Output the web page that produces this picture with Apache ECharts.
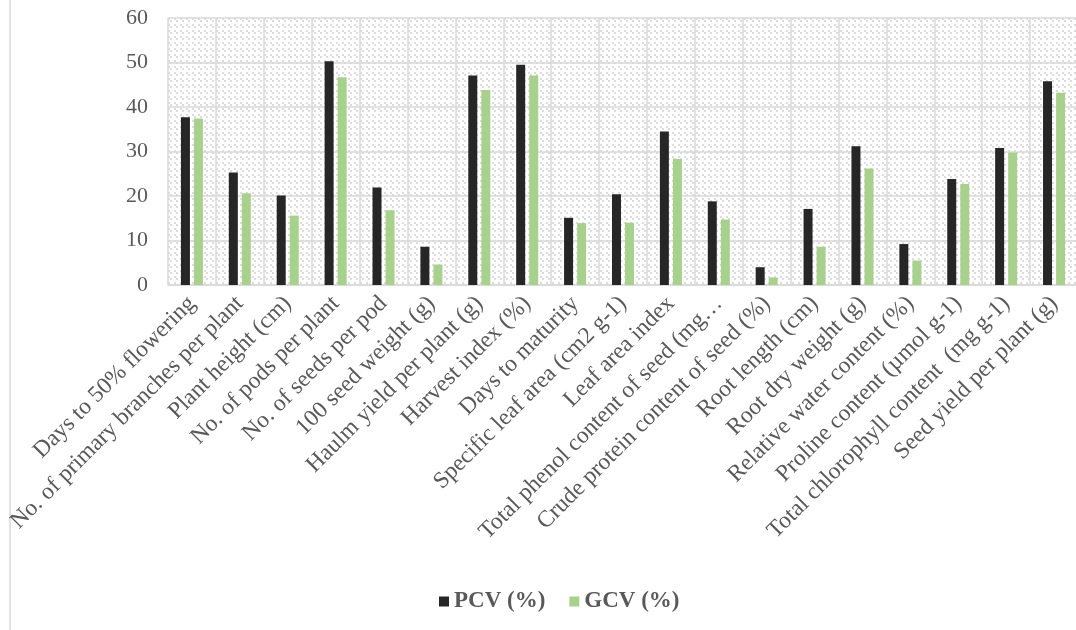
<!DOCTYPE html>
<html>
<head>
<meta charset="utf-8">
<script src="https://cdn.jsdelivr.net/npm/echarts@6/dist/echarts.min.js"></script>
<style>
  html, body { margin: 0; padding: 0; background: #ffffff; }
  #chart { width: 1076px; height: 630px; }
</style>
</head>
<body>
<div id="chart"></div>
<script>
// Traits measured in the trial
const traits = [
  'Days to 50% flowering',
  'No. of primary branches per plant',
  'Plant height (cm)',
  'No. of pods per plant',
  'No. of seeds per pod',
  '100 seed weight (g)',
  'Haulm yield per plant (g)',
  'Harvest index (%)',
  'Days to maturity',
  'Specific leaf area (cm2 g-1)',
  'Leaf area index',
  'Total phenol content of seed (mg…',
  'Crude protein content of seed (%)',
  'Root length (cm)',
  'Root dry weight (g)',
  'Relative water content (%)',
  'Proline content (µmol g-1)',
  'Total chlorophyll content  (mg g-1)',
  'Seed yield per plant (g)'
];

// Phenotypic coefficient of variation (%)
const pcv = [37.7, 25.3, 20.1, 50.3, 21.9, 8.6, 47.1, 49.5, 15.1, 20.4,
             34.5, 18.8, 4.0, 17.1, 31.2, 9.2, 23.8, 30.8, 45.8];

// Genotypic coefficient of variation (%)
const gcv = [37.4, 20.6, 15.6, 46.7, 16.8, 4.6, 43.8, 47.1, 13.9, 14.0,
             28.3, 14.7, 1.7, 8.6, 26.2, 5.5, 22.7, 29.8, 43.2];

const seriesNames = ['PCV (%)', 'GCV (%)'];
const yTicks = { min: 0, max: 60, step: 10 };

// Dashed downward-diagonal hatch for the plot background
function hatchTile() {
  const c = document.createElement('canvas');
  c.width = 6; c.height = 6;
  const g = c.getContext('2d');
  g.fillStyle = '#ffffff';
  g.fillRect(0, 0, 6, 6);
  g.fillStyle = '#dcdcdc';
  g.fillRect(0, 0, 2, 2);
  g.fillRect(2, 2, 2, 2);
  return c;
}

const serif = '"Liberation Serif", "Times New Roman", serif';
const textGrey = '#595959';
const gridGrey = '#d9d9d9';

const chart = echarts.init(document.getElementById('chart'), null, { renderer: 'canvas' });

chart.setOption({
  animation: false,
  backgroundColor: '#ffffff',
  graphic: [{
    type: 'line',
    shape: { x1: 10, y1: 0, x2: 10, y2: 630 },
    style: { stroke: gridGrey, lineWidth: 1.5 },
    z: 0
  }],
  grid: {
    left: 168,
    top: 18,
    width: 910,
    height: 267,
    containLabel: false,
    outerBoundsMode: 'none',
    show: true,
    borderWidth: 0,
    backgroundColor: { image: hatchTile(), repeat: 'repeat' }
  },
  legend: {
    data: seriesNames,
    left: 434,
    top: 585,
    icon: 'rect',
    itemWidth: 10,
    itemHeight: 10,
    itemGap: 24,
    textStyle: { fontFamily: serif, fontSize: 23, fontWeight: 'bold', color: textGrey }
  },
  xAxis: {
    type: 'category',
    data: traits,
    axisTick: { show: false },
    axisLine: { show: true, lineStyle: { color: gridGrey, width: 1.5 } },
    splitLine: { show: true, interval: 0, lineStyle: { color: gridGrey, width: 1.5 } },
    axisLabel: {
      interval: 0,
      rotate: 45,
      margin: 15,
      fontFamily: serif,
      fontSize: 23.5,
      color: textGrey
    }
  },
  yAxis: {
    type: 'value',
    min: yTicks.min,
    max: yTicks.max,
    interval: yTicks.step,
    axisLine: { show: false },
    axisTick: { show: false },
    splitLine: { show: true, lineStyle: { color: gridGrey, width: 1.5 } },
    axisLabel: {
      margin: 20,
      fontFamily: serif,
      fontSize: 22,
      color: textGrey
    }
  },
  series: [
    {
      name: seriesNames[0],
      type: 'bar',
      data: pcv,
      barWidth: 9,
      barGap: '45%',
      itemStyle: { color: '#262626' }
    },
    {
      name: seriesNames[1],
      type: 'bar',
      data: gcv,
      barWidth: 9,
      barGap: '45%',
      itemStyle: { color: '#a9d18e' }
    }
  ]
});
</script>
</body>
</html>
